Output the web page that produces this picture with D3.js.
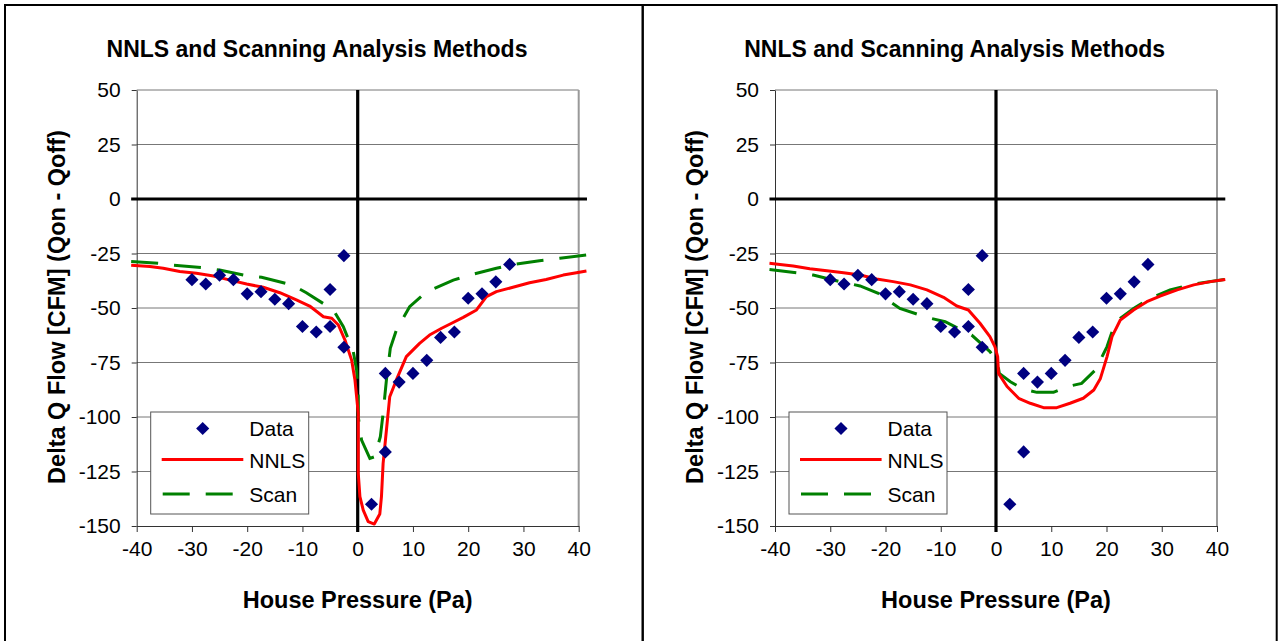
<!DOCTYPE html>
<html>
<head>
<meta charset="utf-8">
<script src="https://cdn.jsdelivr.net/npm/d3@7"></script>
<style>
  body { margin: 0; background: #fff; }
  text { font-family: "Liberation Sans", Arial, sans-serif; fill: #000; }
</style>
</head>
<body>
<svg id="chart" width="1282" height="641"></svg>
<script>
// ---------- data ----------
const chartTitle = "NNLS and Scanning Analysis Methods";
const xAxisTitle = "House Pressure (Pa)";
const yAxisTitle = "Delta Q Flow [CFM] (Qon - Qoff)";
const xTicks = [-40, -30, -20, -10, 0, 10, 20, 30, 40];
const yTicks = [50, 25, 0, -25, -50, -75, -100, -125, -150];
const legendLabels = ["Data", "NNLS", "Scan"];

// measured data points (same in both panels)
const dataX = [-30, -27.5, -25, -22.5, -20, -17.5, -15, -12.5, -10, -7.5, -5, -5, -2.5, -2.5,
               2.5, 5, 5, 7.5, 10, 12.5, 15, 17.5, 20, 22.5, 25, 27.5];
const dataY = [-37, -39, -35, -37, -43.5, -42.5, -46, -48, -58.5, -61, -41.5, -58.5, -26, -68,
               -140, -80, -116, -84, -80, -74, -63.5, -61, -45.5, -43.5, -38, -30];

// left panel model curves
const nnlsLeftX = [-41, -37.6, -35.2, -32.2, -29.2, -26.1, -23.1, -20.1, -17.1, -14.1, -11.1, -8.7, -6.2, -4.7, -3.5, -2.3,
                   -1.1, -0.5, -0.2, 0.1, 0.1, 0.4, 1, 1.9, 3, 4, 4.3, 4.6, 5.2, 5.8, 7, 8.8, 11.2, 13, 15.2, 17, 19.1,
                   21.5, 23.3, 25.1, 28.1, 31.1, 34.1, 37.2, 39.6, 41.4];
const nnlsLeftY = [-30.4, -31, -31.8, -33.3, -34.1, -35.3, -37.2, -39, -40.5, -43, -46.3, -49.1, -54, -54.7, -57.8, -64.7,
                   -73.9, -83, -90.7, -98.3, -125.8, -136.5, -142.7, -148, -149.1, -144.5, -136.5, -121.3, -106, -90.7, -83,
                   -72.3, -66.2, -62.4, -59.3, -57, -54.3, -50.9, -44.8, -42.5, -40.5, -38.4, -36.9, -34.9, -33.8, -33];
const scanLeftX = [-41, -36.1, -33.4, -28.1, -25, -19.8, -17.4, -11.9, -9.3, -4.4, -2.6, -0.8, -0.2, 0.1, 0.1, 0.7, 2.2,
                   3.1, 4.1, 4.6, 5.2, 5.9, 7, 9.4, 12.4, 17.3, 20.3, 25.1, 28.7, 32.9, 36.6, 41.4];
const scanLeftY = [-28.7, -29.5, -30.4, -31.5, -32.6, -35.3, -35.9, -39.4, -43, -50.9, -58.6, -70, -78.4, -90.7, -99.8,
                   -110.6, -119, -118.2, -109, -98.3, -83, -68.5, -60.1, -49.4, -42.7, -37.2, -34.9, -31.8, -29.8, -28.3,
                   -27.2, -25.7];

// right panel model curves
const nnlsRightX = [-41, -39.1, -36.7, -33.7, -30.6, -27.6, -24.6, -21.6, -18.6, -15.5, -12.5, -9.5, -7.1, -5, -2.9, -1.1,
                    -0.2, 0.3, 0.45, 2, 4.1, 6.2, 8.6, 11, 13.4, 15.8, 17.7, 18.9, 20.1, 21, 22.5, 24.9, 27.3, 29.7, 32.8,
                    35.8, 38.8, 41.5];
const nnlsRightY = [-29.5, -30, -30.7, -32, -32.9, -33.8, -34.9, -36.7, -37.9, -39.4, -41.7, -45.1, -49.1, -50.9, -57, -63.1,
                    -67.7, -72.3, -80, -86, -91.4, -93.7, -95.7, -95.7, -93.7, -91.4, -87.6, -82.3, -72.3, -63.1, -55.5,
                    -50.9, -47.1, -44.5, -41.7, -39.4, -37.9, -36.9];
const scanRightX = [-41, -36.1, -33.1, -28.2, -24.6, -21.3, -17.4, -12.5, -9.2, -4.4, -1.1, 0.3, 0.6, 2.6, 5, 7.4, 10.4,
                    12.8, 15.5, 18, 20.1, 21.3, 22.5, 24.9, 27.9, 31.5, 35.8, 41.5];
const scanRightY = [-32.3, -33.8, -34.9, -37.9, -39.9, -43.3, -50.2, -54.3, -56.3, -62.4, -70, -75.1, -80, -83.8, -87.3,
                    -88.7, -88.7, -86.1, -84.6, -78.4, -67.7, -58.6, -54.7, -50.2, -45.6, -41.7, -39, -36.9];

// reference (zero) lines drawn as series
const zeroHX = [-41, 41.5];
const zeroVY = [50, -152.8];

// ---------- drawing ----------
const svg = d3.select("#chart");
const FONT = '"Liberation Sans", Arial, sans-serif';

const panels = [
  { px: 5, pw: 637.7, left: 136.7, nnlsX: nnlsLeftX, nnlsY: nnlsLeftY, scanX: scanLeftX, scanY: scanLeftY },
  { px: 642.7, pw: 634, left: 775, nnlsX: nnlsRightX, nnlsY: nnlsRightY, scanX: scanRightX, scanY: scanRightY }
];

const plotTop = 90, plotBottom = 526, plotW = 442;

panels.forEach(p => {
  const g = svg.append("g");
  const x = d3.scaleLinear().domain([-40, 40]).range([p.left, p.left + plotW]);
  const y = d3.scaleLinear().domain([-150, 50]).range([plotBottom, plotTop]);

  // panel border
  g.append("rect").attr("x", p.px).attr("y", 5).attr("width", p.pw).attr("height", 645)
    .attr("fill", "none").attr("stroke", "#000").attr("stroke-width", 2);

  // gridlines
  g.append("g").selectAll("line").data(yTicks.filter(v => v !== -150)).join("line")
    .attr("x1", x(-40)).attr("x2", x(40))
    .attr("y1", d => y(d)).attr("y2", d => y(d))
    .attr("stroke", "#777").attr("stroke-width", 1);

  // right plot border
  g.append("line").attr("x1", x(40)).attr("x2", x(40)).attr("y1", y(50)).attr("y2", y(-150))
    .attr("stroke", "#999").attr("stroke-width", 2);

  // axes
  const fmt = d => String(d);
  const xAxis = d3.axisBottom(x).tickValues(xTicks).tickFormat(fmt).tickSize(6).tickSizeOuter(0).tickPadding(9);
  const gx = g.append("g").attr("transform", `translate(0,${plotBottom})`).call(xAxis);
  gx.select(".domain").attr("stroke", "#333");
  gx.selectAll(".tick line").attr("stroke", "#333");
  gx.selectAll("text").style("font-family", FONT).style("font-size", "21px").attr("fill", "#000");

  const yAxis = d3.axisLeft(y).tickValues(yTicks).tickFormat(fmt).tickSize(5).tickSizeOuter(0).tickPadding(11);
  const gy = g.append("g").attr("transform", `translate(${p.left},0)`).call(yAxis);
  gy.select(".domain").attr("stroke", "#333");
  gy.selectAll(".tick line").attr("stroke", "#333");
  gy.selectAll("text").style("font-family", FONT).style("font-size", "21px").attr("fill", "#000");

  // zero lines
  g.append("line").attr("x1", x(zeroHX[0])).attr("x2", x(zeroHX[1])).attr("y1", y(0)).attr("y2", y(0))
    .attr("stroke", "#000").attr("stroke-width", 3.2);
  g.append("line").attr("x1", x(0)).attr("x2", x(0)).attr("y1", y(zeroVY[0])).attr("y2", y(zeroVY[1]))
    .attr("stroke", "#000").attr("stroke-width", 3.2);

  const line = d3.line().x(d => x(d[0])).y(d => y(d[1]));

  // scan
  g.append("path").datum(p.scanX.map((v, i) => [v, p.scanY[i]]))
    .attr("d", line).attr("fill", "none").attr("stroke", "#008000").attr("stroke-width", 3)
    .attr("stroke-dasharray", "27,16");
  // nnls
  g.append("path").datum(p.nnlsX.map((v, i) => [v, p.nnlsY[i]]))
    .attr("d", line).attr("fill", "none").attr("stroke", "#ff0000").attr("stroke-width", 3)
    .attr("stroke-linejoin", "round");

  // data points
  const sym = d3.symbol().type(d3.symbolSquare).size(86);
  g.append("g").selectAll("path").data(dataX.map((v, i) => [v, dataY[i]])).join("path")
    .attr("d", sym).attr("fill", "#000080")
    .attr("transform", d => `translate(${x(d[0])},${y(d[1])}) rotate(45)`);

  // titles
  g.append("text").attr("x", p.px + 312).attr("y", 57).attr("text-anchor", "middle")
    .style("font-weight", "bold").style("font-size", "23px").text(chartTitle);
  g.append("text").attr("x", p.left + plotW / 2).attr("y", 608).attr("text-anchor", "middle")
    .style("font-weight", "bold").style("font-size", "23.5px").text(xAxisTitle);
  g.append("text").attr("transform", `translate(${p.px + 60},307) rotate(-90)`).attr("text-anchor", "middle")
    .style("font-weight", "bold").style("font-size", "23.5px").text(yAxisTitle);

  // legend
  const lg = g.append("g").attr("transform", `translate(${p.left + 14},412)`);
  lg.append("rect").attr("x", 0).attr("y", 0).attr("width", 158).attr("height", 102)
    .attr("fill", "#fff").attr("stroke", "#555").attr("stroke-width", 1);
  lg.append("path").attr("d", sym).attr("fill", "#000080").attr("transform", "translate(52,16.5) rotate(45)");
  lg.append("line").attr("x1", 11).attr("x2", 92.6).attr("y1", 47.5).attr("y2", 47.5)
    .attr("stroke", "#ff0000").attr("stroke-width", 3);
  lg.append("line").attr("x1", 12).attr("x2", 95).attr("y1", 82).attr("y2", 82)
    .attr("stroke", "#008000").attr("stroke-width", 3).attr("stroke-dasharray", "27,16");
  legendLabels.forEach((t, i) => {
    lg.append("text").attr("x", 98.6).attr("y", [16.5, 48, 82][i]).attr("dy", "0.36em")
      .style("font-size", "21px").text(t);
  });
});
</script>
</body>
</html>
